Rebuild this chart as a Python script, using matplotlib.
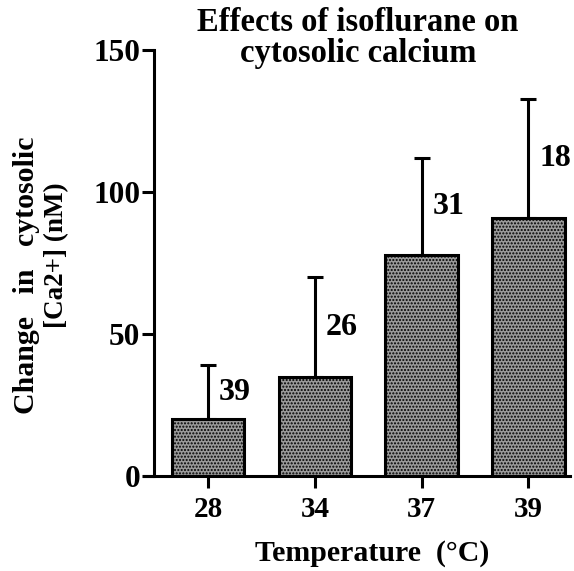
import numpy as np
import matplotlib.pyplot as plt

plt.rcParams['font.family'] = 'Liberation Serif'
plt.rcParams['font.weight'] = 'bold'
plt.rcParams['hatch.linewidth'] = 1.0

temps = ['28', '34', '37', '39']
change = [20, 35, 78, 91]
err_top = [39, 70, 112, 133]
n_cells = [39, 26, 31, 18]

fig = plt.figure(figsize=(5.74, 5.71), dpi=100)
ax = fig.add_axes([0.251, 0.166, 0.742, 0.746])

x = np.arange(len(temps))
ax.bar(x, change, width=0.68, color='#9a9a9a', edgecolor='black',
       linewidth=2.2, hatch='.....', zorder=2)

# only the upper half of the error bar is drawn
up = np.array(err_top) - np.array(change)
ax.errorbar(x, change, yerr=[np.zeros(len(x)), up], fmt='none',
            ecolor='black', elinewidth=2.2, capsize=5.5, capthick=2.2, zorder=1)

# n labels sit halfway up the error bar
for xi, n, lo, hi in zip(x, n_cells, change, err_top):
    ax.text(xi + 0.1, (lo + hi) / 2, str(n), ha='left', va='center',
            fontsize=23, fontweight='bold')

ax.set_xlim(-0.6, 3.39)
ax.set_ylim(0, 150)
ax.set_xticks(x)
ax.set_xticklabels(temps)
ax.set_yticks([0, 50, 100, 150])

ax.spines['top'].set_visible(False)
ax.spines['right'].set_visible(False)
ax.spines['left'].set_position(('axes', 0.024))
ax.spines['left'].set_linewidth(2.2)
ax.spines['bottom'].set_linewidth(2.2)
ax.tick_params(axis='both', width=2.2, length=8.5, direction='out')
ax.tick_params(axis='y', pad=1.5, labelsize=22.5)
ax.tick_params(axis='x', pad=6, labelsize=21)

ax.set_xlabel('Temperature  (°C)', fontsize=21.5, fontweight='bold')
ax.xaxis.set_label_coords(0.535, -0.15)

fig.text(0.046, 0.518, 'Change   in   cytosolic', rotation=90, fontsize=21.5,
         fontweight='bold', ha='center', va='center')
fig.text(0.098, 0.553, '[Ca2+] (nM)', rotation=90, fontsize=19.5,
         fontweight='bold', ha='center', va='center')

fig.text(0.624, 0.988, 'Effects of isoflurane on\ncytosolic calcium',
         fontsize=23.5, fontweight='bold', ha='center', va='top',
         linespacing=1.0)

fig.savefig('out.png', dpi=100)
